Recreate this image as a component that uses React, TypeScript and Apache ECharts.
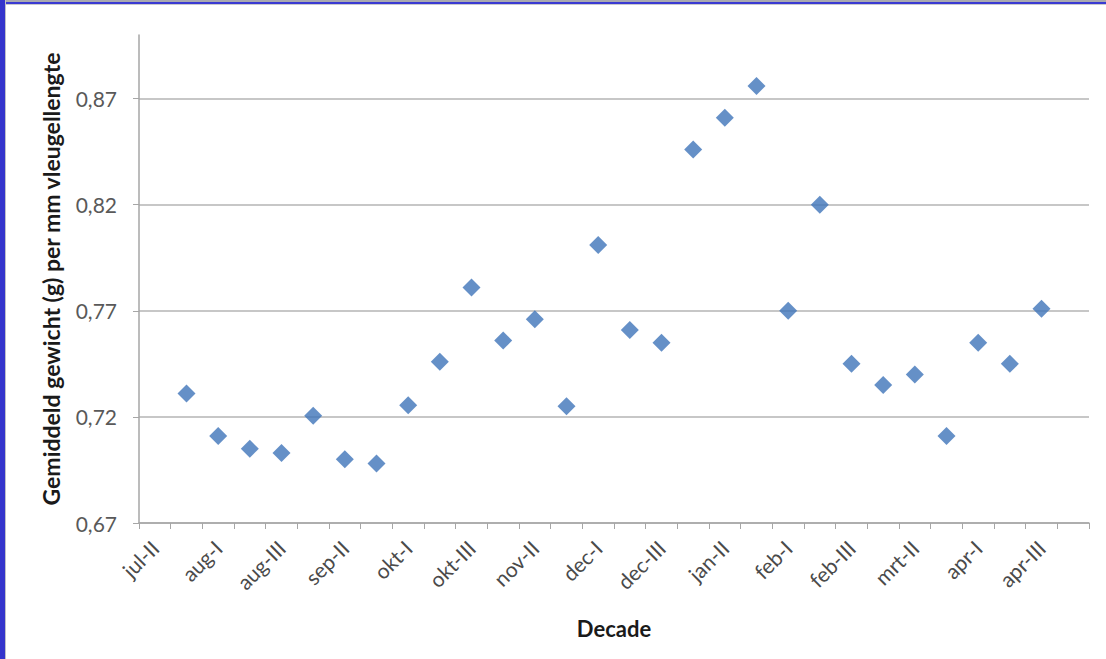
import React, { useEffect, useRef } from "react";
import * as echarts from "echarts";

const categories = [
  "jul-II", "jul-III", "aug-I", "aug-II", "aug-III", "sep-I", "sep-II", "sep-III",
  "okt-I", "okt-II", "okt-III", "nov-I", "nov-II", "nov-III", "dec-I", "dec-II",
  "dec-III", "jan-I", "jan-II", "jan-III", "feb-I", "feb-II", "feb-III", "mrt-I",
  "mrt-II", "mrt-III", "apr-I", "apr-II", "apr-III", "mei-I",
];
const weightPerMm: (number | null)[] = [
  null, 0.731, 0.711, 0.705, 0.703, 0.7205, 0.7, 0.698,
  0.7255, 0.746, 0.781, 0.756, 0.766, 0.725, 0.801, 0.761,
  0.755, 0.846, 0.861, 0.876, 0.77, 0.82, 0.745, 0.735,
  0.74, 0.711, 0.755, 0.745, 0.771, null,
];
const yTicks = [0.67, 0.72, 0.77, 0.82, 0.87];
const yMin = 0.67;
const yMax = 0.9;

const FONT = "Lato, 'Open Sans', sans-serif";

export default function App() {
  const ref = useRef<HTMLDivElement>(null);
  useEffect(() => {
    if (!ref.current) return;
    const chart = echarts.init(ref.current, null, { renderer: "svg" });
    chart.setOption({
      animation: false,
      backgroundColor: "#ffffff",
      textStyle: { fontFamily: FONT },
      grid: { left: 139, right: 17, top: 35, bottom: 136 },
      graphic: [
        { type: "rect", shape: { x: 0, y: 0, width: 1106, height: 2 }, style: { fill: "#a9a9b0" } },
        { type: "rect", shape: { x: 0, y: 2, width: 1106, height: 2 }, style: { fill: "#3a3ad2" } },
        { type: "rect", shape: { x: 0, y: 4, width: 1106, height: 1 }, style: { fill: "#c8c8cc" } },
        { type: "rect", shape: { x: 0, y: 0, width: 5, height: 659 }, style: { fill: "#3434cc" } },
        { type: "rect", shape: { x: 5, y: 0, width: 1, height: 659 }, style: { fill: "#c0c0c8" } },
      ],
      xAxis: {
        type: "category",
        data: categories,
        boundaryGap: true,
        name: "Decade",
        nameLocation: "middle",
        nameGap: 94,
        nameTextStyle: { fontFamily: FONT, fontWeight: "bold", fontSize: 22, color: "#1a1a1a" },
        axisLine: { show: true, lineStyle: { color: "#a6a6a6", width: 1.5 } },
        axisTick: { show: true, interval: 0, length: 6, inside: false, lineStyle: { color: "#a6a6a6" } },
        axisLabel: {
          interval: 1,
          rotate: 45,
          margin: 21,
          fontFamily: FONT,
          fontSize: 21,
          color: "#4a4a4a",
        },
        splitLine: { show: false },
      },
      yAxis: {
        type: "value",
        min: yMin,
        max: yMax,
        name: "Gemiddeld gewicht (g) per mm vleugellengte",
        nameLocation: "middle",
        nameGap: 77,
        nameRotate: 90,
        nameTextStyle: { fontFamily: FONT, fontWeight: "bold", fontSize: 23, color: "#1a1a1a" },
        axisLine: { show: true, lineStyle: { color: "#a6a6a6", width: 1.5 } },
        axisTick: { show: true, length: 6, lineStyle: { color: "#a6a6a6" }, customValues: yTicks },
        axisLabel: {
          customValues: yTicks,
          margin: 22,
          fontFamily: FONT,
          fontSize: 21,
          color: "#595959",
          formatter: (v: number) => v.toFixed(2).replace(".", ","),
        },
        splitLine: { show: true, lineStyle: { color: "#b5b5b5", width: 1.5 } },
      },
      series: [
        {
          type: "scatter",
          data: weightPerMm,
          symbol: "diamond",
          symbolSize: [18, 18],
          itemStyle: { color: "#3e74b9" },
        },
      ],
    });
    return () => chart.dispose();
  }, []);
  return (
    <div
      ref={ref}
      style={{ position: "fixed", left: 0, top: 0, width: 1106, height: 659, background: "#fff" }}
    />
  );
}
